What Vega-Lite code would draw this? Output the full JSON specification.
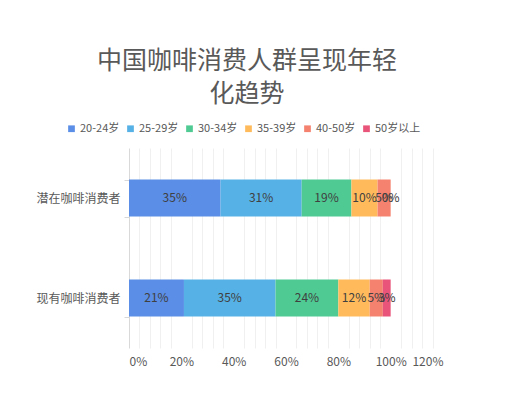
{
  "$schema": "https://vega.github.io/schema/vega-lite/v6.json",
  "width": 314,
  "height": 200,
  "autosize": "none",
  "padding": {"left": 129, "top": 148, "right": 69, "bottom": 47},
  "background": "white",
  "config": {
    "font": "Noto Sans CJK SC",
    "view": {"stroke": null}
  },
  "title": {
    "text": ["中国咖啡消费人群呈现年轻", "化趋势"],
    "frame": "group",
    "anchor": "middle",
    "dx": -39,
    "offset": 16,
    "fontSize": 25,
    "fontWeight": "normal",
    "color": "#595959",
    "lineHeight": 33,
    "font": "Noto Sans CJK SC"
  },
  "data": {
    "values": [
      {"cat": "潜在咖啡消费者", "age": "20-24岁", "order": 1, "value": 0.35},
      {"cat": "潜在咖啡消费者", "age": "25-29岁", "order": 2, "value": 0.31},
      {"cat": "潜在咖啡消费者", "age": "30-34岁", "order": 3, "value": 0.19},
      {"cat": "潜在咖啡消费者", "age": "35-39岁", "order": 4, "value": 0.10},
      {"cat": "潜在咖啡消费者", "age": "40-50岁", "order": 5, "value": 0.05},
      {"cat": "潜在咖啡消费者", "age": "50岁以上", "order": 6, "value": 0.00},
      {"cat": "现有咖啡消费者", "age": "20-24岁", "order": 1, "value": 0.21},
      {"cat": "现有咖啡消费者", "age": "25-29岁", "order": 2, "value": 0.35},
      {"cat": "现有咖啡消费者", "age": "30-34岁", "order": 3, "value": 0.24},
      {"cat": "现有咖啡消费者", "age": "35-39岁", "order": 4, "value": 0.12},
      {"cat": "现有咖啡消费者", "age": "40-50岁", "order": 5, "value": 0.05},
      {"cat": "现有咖啡消费者", "age": "50岁以上", "order": 6, "value": 0.03}
    ]
  },
  "transform": [
    {"stack": "value", "groupby": ["cat"], "sort": [{"field": "order"}], "as": ["v0", "v1"]},
    {"calculate": "(datum.v0 + datum.v1) / 2", "as": "mid"}
  ],
  "encoding": {
    "y": {
      "field": "cat",
      "type": "nominal",
      "sort": ["潜在咖啡消费者", "现有咖啡消费者"],
      "scale": {"paddingInner": 0.63, "paddingOuter": 0.315},
      "axis": {
        "title": null,
        "labelFontSize": 12,
        "labelColor": "#595959",
        "labelPadding": 4,
        "domainColor": "#d9d9d9",
        "tickColor": "#d9d9d9",
        "tickSize": 5,
        "tickBand": "extent",
        "labelFont": "Noto Sans CJK SC"
      }
    }
  },
  "resolve": {"axis": {"x": "independent"}},
  "layer": [
    {
      "mark": {"type": "rule", "stroke": "#d9d9d9", "strokeWidth": 1, "opacity": 0},
      "encoding": {
        "x": {
          "datum": 0,
          "type": "quantitative",
          "scale": {"domain": [0, 1.2], "nice": false},
          "axis": {
            "orient": "top",
            "title": null,
            "values": [0.04, 0.08, 0.12, 0.16, 0.24, 0.28, 0.32, 0.36, 0.44, 0.48, 0.52, 0.56, 0.64, 0.68, 0.72, 0.76, 0.84, 0.88, 0.92, 0.96, 1.04, 1.08, 1.12, 1.16],
            "labels": false,
            "ticks": false,
            "domain": false,
            "grid": true,
            "gridColor": "#f0f0f0"
          }
        }
      }
    },
    {
      "mark": {"type": "bar"},
      "encoding": {
        "x": {
          "field": "v0",
          "type": "quantitative",
          "scale": {"domain": [0, 1.2], "nice": false},
          "axis": {
            "title": null,
            "values": [0, 0.2, 0.4, 0.6, 0.8, 1.0, 1.2],
            "format": ".0%",
            "labelFontSize": 12,
            "labelColor": "#595959",
            "labelPadding": 8,
            "domain": false,
            "ticks": false,
            "gridColor": "#d9d9d9",
            "labelFont": "Noto Sans CJK SC"
          }
        },
        "x2": {"field": "v1"},
        "color": {
          "field": "age",
          "type": "nominal",
          "sort": ["20-24岁", "25-29岁", "30-34岁", "35-39岁", "40-50岁", "50岁以上"],
          "scale": {
            "domain": ["20-24岁", "25-29岁", "30-34岁", "35-39岁", "40-50岁", "50岁以上"],
            "range": ["#5b8ee6", "#56b1e6", "#4fca93", "#ffbb5b", "#f4826f", "#e9557a"]
          },
          "legend": {
            "title": null,
            "orient": "none",
            "direction": "horizontal",
            "legendX": -63,
            "legendY": -25,
            "symbolType": "square",
            "symbolSize": 45,
            "symbolStrokeWidth": 0,
            "labelFontSize": 11,
            "labelColor": "#595959",
            "labelOffset": 3,
            "columnPadding": 5,
            "labelFont": "Noto Sans CJK SC"
          }
        }
      }
    },
    {
      "mark": {"type": "text", "fontSize": 12, "color": "#404040", "font": "Noto Sans CJK SC"},
      "encoding": {
        "x": {"field": "mid", "type": "quantitative", "axis": null},
        "text": {"field": "value", "type": "quantitative", "format": ".0%"}
      }
    }
  ]
}
